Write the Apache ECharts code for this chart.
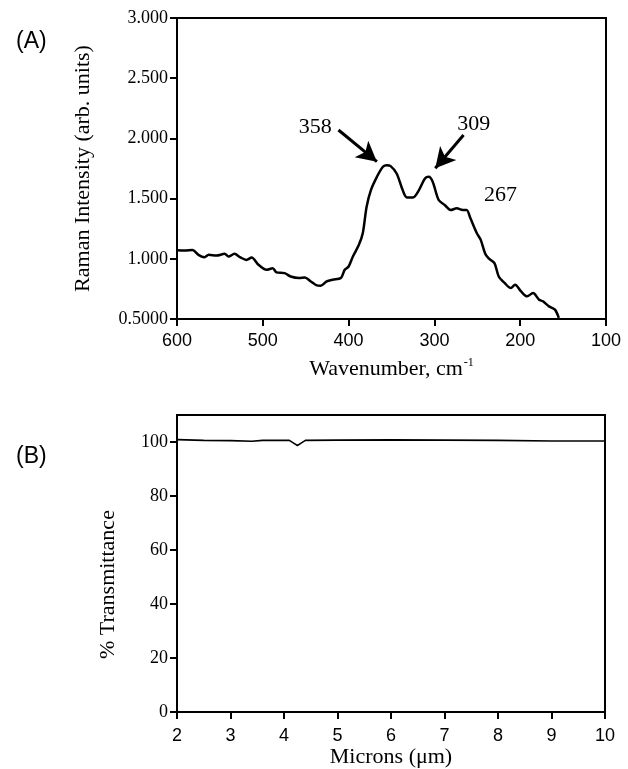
<!DOCTYPE html>
<html>
<head>
<meta charset="utf-8">
<script src="https://cdn.jsdelivr.net/npm/echarts@6/dist/echarts.min.js"></script>
<style>html,body{margin:0;padding:0;background:#fff;}#c{width:628px;height:769px;}</style>
</head>
<body>
<div id="c"></div>
<script>
// Panel A: Raman spectrum
const ramanWn = [600, 591, 582, 575, 568, 563, 554, 544.5, 540, 533, 526, 519, 513, 505, 495.5, 488.5, 484, 474.5, 467.5, 458, 451, 444, 437, 432.5, 425.5, 418.5, 409, 404.5, 400, 395, 388, 383.5, 379, 374, 367, 360, 355.5, 351, 344, 337, 332, 325, 318, 311, 306.5, 302, 295, 288, 281, 274, 267, 262.5, 258, 250.5, 246, 241, 237, 230, 225, 218, 211, 206, 199, 192, 185, 178, 173.5, 166.5, 159.5, 155];
const ramanI = [1.072, 1.068, 1.074, 1.033, 1.013, 1.033, 1.027, 1.041, 1.019, 1.041, 1.011, 0.991, 1.011, 0.950, 0.909, 0.922, 0.887, 0.881, 0.853, 0.840, 0.845, 0.812, 0.779, 0.776, 0.812, 0.826, 0.840, 0.909, 0.936, 1.019, 1.116, 1.212, 1.433, 1.571, 1.681, 1.764, 1.778, 1.770, 1.709, 1.571, 1.510, 1.510, 1.571, 1.667, 1.681, 1.640, 1.488, 1.447, 1.405, 1.419, 1.405, 1.405, 1.336, 1.212, 1.157, 1.047, 1.005, 0.964, 0.853, 0.798, 0.757, 0.785, 0.729, 0.688, 0.716, 0.660, 0.647, 0.605, 0.578, 0.509];
const yTickLabelsA = {'0.5': '0.5000', '1': '1.000', '1.5': '1.500', '2': '2.000', '2.5': '2.500', '3': '3.000'};
const peakLabels = ['358', '309', '267'];
const peakLabelPos = [[439, 2.095], [254, 2.115], [223, 1.530]];
const arrowTails = [[411.8, 2.07], [266, 2.028]];
const arrowHeads = [[367, 1.807], [299, 1.752]];

// Panel B: IR transmittance
const irMicrons = [2, 2.5, 3, 3.4, 3.6, 4.1, 4.18, 4.25, 4.32, 4.4, 5, 6, 7, 8, 9, 10];
const irT = [100.9, 100.6, 100.5, 100.3, 100.6, 100.6, 99.6, 98.7, 99.6, 100.6, 100.7, 100.8, 100.7, 100.6, 100.4, 100.4];
const yTicksB = [0, 20, 40, 60, 80, 100];

const serif = 'Liberation Serif';
const sans = 'Liberation Sans';

const chart = echarts.init(document.getElementById('c'), null, {renderer: 'canvas'});

const axisLineStyle = {show: true, lineStyle: {color: '#000', width: 2}};
const tickStyle = {show: true, inside: false, length: 7, lineStyle: {color: '#000', width: 2}};

chart.setOption({
  animation: false,
  backgroundColor: '#fff',
  title: [
    {text: '(A)', left: 11, top: 25, textStyle: {fontFamily: sans, fontSize: 23, fontWeight: 'normal', color: '#000'}},
    {text: '(B)', left: 11, top: 440, textStyle: {fontFamily: sans, fontSize: 23, fontWeight: 'normal', color: '#000'}}
  ],
  grid: [
    {left: 177, top: 18, width: 429, height: 301, show: true, borderColor: '#000', borderWidth: 2, containLabel: false},
    {left: 177, top: 415, width: 428, height: 303, show: true, borderColor: '#000', borderWidth: 2, containLabel: false}
  ],
  xAxis: [
    {
      type: 'value', gridIndex: 0, min: 100, max: 600, interval: 100, inverse: true,
      axisLine: axisLineStyle, axisTick: tickStyle, splitLine: {show: false},
      axisLabel: {color: '#000', fontFamily: sans, fontSize: 18, margin: 13},
      name: 'Wavenumber, cm{sup|-1}', nameLocation: 'middle', nameGap: 38,
      nameTextStyle: {color: '#000', fontFamily: serif, fontSize: 22,
        rich: {sup: {fontFamily: serif, fontSize: 12, verticalAlign: 'top', color: '#000', padding: [0, 0, 12, 1]}}}
    },
    {
      type: 'value', gridIndex: 1, min: 2, max: 10, interval: 1,
      axisLine: axisLineStyle, axisTick: tickStyle, splitLine: {show: false},
      axisLabel: {color: '#000', fontFamily: sans, fontSize: 18, margin: 15},
      name: 'Microns (μm)', nameLocation: 'middle', nameGap: 31,
      nameTextStyle: {color: '#000', fontFamily: serif, fontSize: 22}
    }
  ],
  yAxis: [
    {
      type: 'value', gridIndex: 0, min: 0.5, max: 3, interval: 0.5,
      axisLine: axisLineStyle, axisTick: tickStyle, splitLine: {show: false},
      axisLabel: {color: '#000', fontFamily: serif, fontSize: 18, margin: 9,
        formatter: function (v) { return yTickLabelsA[String(v)] || ''; }},
      name: 'Raman Intensity (arb. units)', nameLocation: 'middle', nameGap: 83,
      nameTextStyle: {color: '#000', fontFamily: serif, fontSize: 22}
    },
    {
      type: 'value', gridIndex: 1, min: 0, max: 110,
      axisLine: axisLineStyle, splitLine: {show: false},
      axisTick: Object.assign({}, tickStyle, {customValues: yTicksB}),
      axisLabel: {color: '#000', fontFamily: serif, fontSize: 18, margin: 9, customValues: yTicksB},
      name: '% Transmittance', nameLocation: 'middle', nameGap: 58,
      nameTextStyle: {color: '#000', fontFamily: serif, fontSize: 22, padding: [0, 42, 0, 0]}
    }
  ],
  series: [
    {
      type: 'line', xAxisIndex: 0, yAxisIndex: 0, showSymbol: false, smooth: 0.3,
      lineStyle: {color: '#000', width: 2.5},
      data: ramanWn.map((w, i) => [w, ramanI[i]]),
      markLine: {
        silent: true, animation: false,
        symbol: ['none', 'arrow'], symbolSize: [16, 20],
        label: {show: false},
        lineStyle: {color: '#000', width: 3, type: 'solid'},
        data: arrowTails.map((t, i) => [{coord: t}, {coord: arrowHeads[i]}])
      },
      markPoint: {
        silent: true, animation: false,
        symbol: 'circle', symbolSize: 0,
        label: {show: true, position: 'inside', formatter: '{b}', color: '#000', fontFamily: serif, fontSize: 22},
        data: peakLabels.map((n, i) => ({name: n, coord: peakLabelPos[i]}))
      }
    },
    {
      type: 'line', xAxisIndex: 1, yAxisIndex: 1, showSymbol: false,
      lineStyle: {color: '#000', width: 1.6},
      data: irMicrons.map((m, i) => [m, irT[i]])
    }
  ]
});
</script>
</body>
</html>
